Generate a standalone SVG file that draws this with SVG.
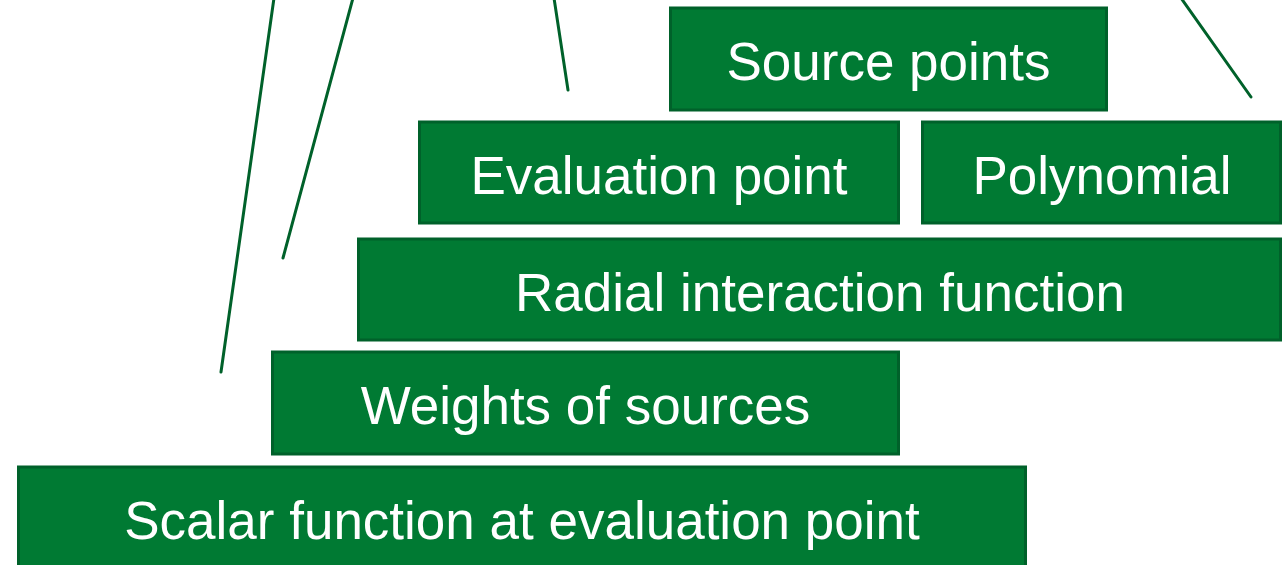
<svg xmlns="http://www.w3.org/2000/svg" width="1288" height="565" viewBox="0 0 1288 565">
<style>
.box{fill:#007A33;stroke:#00612A;stroke-width:3}
.lbl{fill:#ffffff;font-family:"Liberation Sans",Arial,sans-serif;font-size:53px;text-anchor:middle}
.ln{stroke:#00612A;stroke-width:3;stroke-linecap:round;fill:none}
</style>
<rect width="1288" height="565" fill="#ffffff"/>
<g id="connectors">
<line class="ln" x1="274" y1="-2" x2="221" y2="372"/>
<line class="ln" x1="353" y1="-2" x2="283" y2="258"/>
<line class="ln" x1="554" y1="-2" x2="568" y2="90"/>
<line class="ln" x1="1181" y1="-2" x2="1251" y2="97"/>
</g>
<g id="source-points">
<rect class="box" x="670.5" y="8" width="436" height="102"/>
<text class="lbl" x="888.5" y="80">Source points</text>
</g>
<g id="evaluation-point">
<rect class="box" x="419.5" y="122" width="479" height="101"/>
<text class="lbl" x="659" y="194">Evaluation point</text>
</g>
<g id="polynomial">
<rect class="box" x="922.5" y="122" width="358" height="101"/>
<text class="lbl" x="1102" y="194">Polynomial</text>
</g>
<g id="radial-interaction-function">
<rect class="box" x="358.5" y="239" width="922" height="101"/>
<text class="lbl" x="820" y="311">Radial interaction function</text>
</g>
<g id="weights-of-sources">
<rect class="box" x="272.5" y="352" width="626" height="102"/>
<text class="lbl" x="585.5" y="424">Weights of sources</text>
</g>
<g id="scalar-function">
<rect class="box" x="18.5" y="467" width="1007" height="110"/>
<text class="lbl" x="522" y="539">Scalar function at evaluation point</text>
</g>
</svg>
